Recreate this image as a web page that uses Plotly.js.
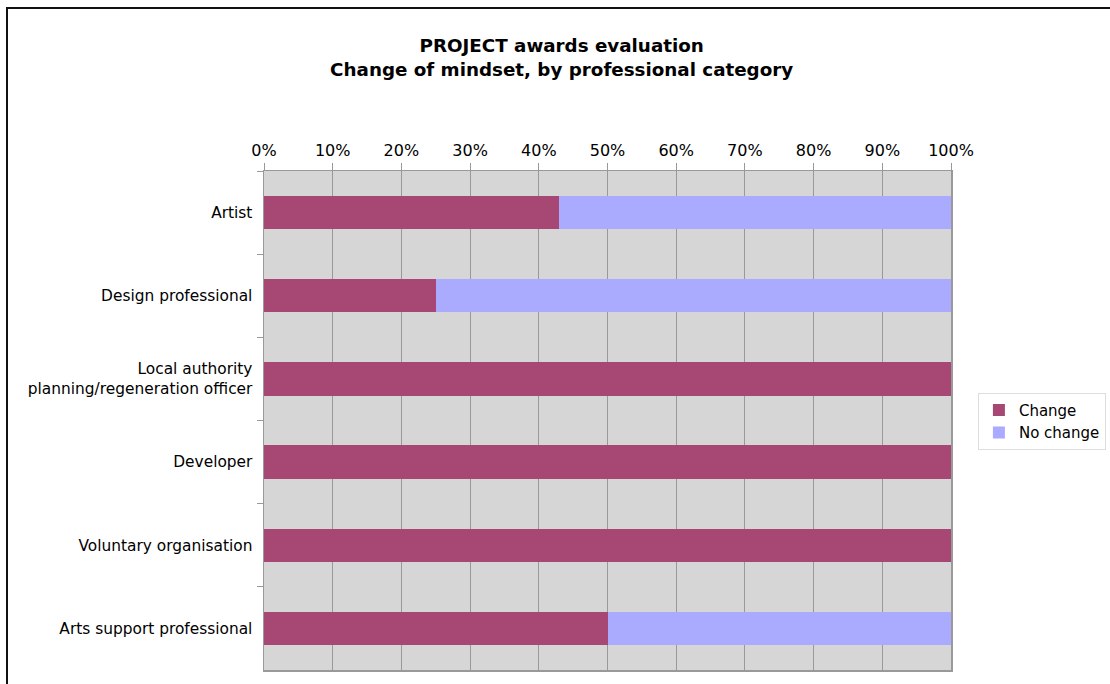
<!DOCTYPE html>
<html><head><meta charset="utf-8">
<script src="https://cdn.plot.ly/plotly-3.0.1.min.js"></script>
<style>
html,body{margin:0;padding:0;background:#fff;overflow:hidden;}
#frame{position:absolute;left:6px;top:7px;width:1300px;height:900px;border-top:2px solid #111;border-left:2px solid #111;}
#chart{position:absolute;left:0;top:0;width:1110px;height:684px;}
</style></head>
<body>
<div id="chart"></div>
<div id="frame"></div>
<script>
const categories = ["Artist", "Design professional", "Local authority<br>planning/regeneration officer", "Developer", "Voluntary organisation", "Arts support professional"];
const changeVals = [0.429, 0.25, 1.0, 1.0, 1.0, 0.5];
const noChangeVals = [0.571, 0.75, 0.0, 0.0, 0.0, 0.5];
const seriesNames = ["Change", "No change"];
const colors = ["#a64873", "#aaaaff"];

const font = "Verdana, 'DejaVu Sans', sans-serif";
const traces = [
  {type:"bar", orientation:"h", name:seriesNames[0], y:categories, x:changeVals, marker:{color:colors[0]}, hoverinfo:"x+y"},
  {type:"bar", orientation:"h", name:seriesNames[1], y:categories, x:noChangeVals, marker:{color:colors[1]}, hoverinfo:"x+y"}
];
const layout = {
  width:1110, height:684,
  margin:{l:264, r:159, t:171, b:14, autoexpand:false},
  paper_bgcolor:"rgba(0,0,0,0)", plot_bgcolor:"#d6d6d6",
  barmode:"stack", bargap:0.6,
  font:{family:font, size:15, color:"#000"},
  title:{text:"<b>PROJECT awards evaluation<br>Change of mindset, by professional category</b>", x:0.506, xanchor:"center", y:0.9236, yanchor:"top", font:{family:font, size:18.3, color:"#000"}},
  xaxis:{side:"top", range:[0,1], dtick:0.1, tick0:0, tickformat:".0%", showgrid:true, gridcolor:"#999", gridwidth:1,
         tickfont:{family:font, size:16},
         ticks:"outside", ticklen:7, tickcolor:"#999", showline:true, linecolor:"#999", linewidth:1.5, mirror:true, zeroline:false, fixedrange:true},
  yaxis:{autorange:"reversed", type:"category", ticks:"outside", tickson:"boundaries", ticklen:6, tickcolor:"#999", showgrid:false,
         tickfont:{family:font, size:15.4}, ticklabelstandoff:7,
         showline:true, linecolor:"#999", linewidth:1.5, mirror:true, fixedrange:true},
  legend:{xref:"container", yref:"container", x:0.881, xanchor:"left", y:0.384, yanchor:"middle", bordercolor:"#ddd", borderwidth:1, bgcolor:"#fff",
          font:{family:font, size:15}, traceorder:"normal", itemwidth:30, tracegroupgap:0},
  showlegend:true
};
Plotly.newPlot("chart", traces, layout, {displayModeBar:false, staticPlot:true});
</script>
</body></html>
